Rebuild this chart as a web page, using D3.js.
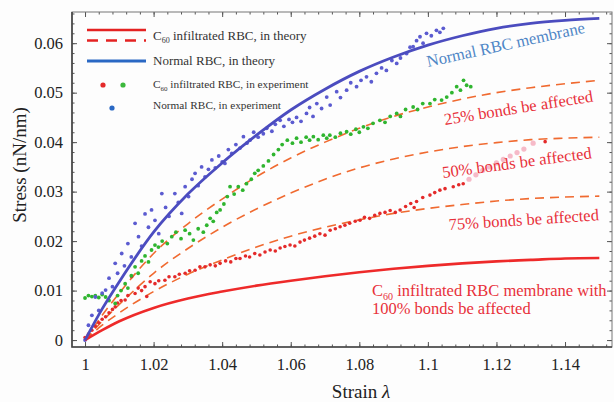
<!DOCTYPE html>
<html>
<head>
<meta charset="utf-8">
<script src="https://cdn.jsdelivr.net/npm/d3@7"></script>
<style>
  body { margin: 0; background: #fff; }
  svg { display: block; }
  text { font-family: "Liberation Serif", "Times New Roman", serif; }
</style>
</head>
<body>
<div id="chart"></div>
<script>
// tick values
var strainTicks = [1, 1.02, 1.04, 1.06, 1.08, 1.1, 1.12, 1.14];
var strainLabels = ["1", "1.02", "1.04", "1.06", "1.08", "1.1", "1.12", "1.14"];
var stressTicks = [0, 0.01, 0.02, 0.03, 0.04, 0.05, 0.06];
var stressLabels = ["0", "0.01", "0.02", "0.03", "0.04", "0.05", "0.06"];

// theory curves [strain, stress]
var normalTheory = [[1, 0], [1.005, 0.0063], [1.01, 0.0118], [1.02, 0.0218], [1.03, 0.0295], [1.04, 0.0358],
  [1.05, 0.0414], [1.06, 0.0465], [1.07, 0.0507], [1.08, 0.0543], [1.09, 0.0572], [1.1, 0.0596],
  [1.11, 0.0615], [1.12, 0.063], [1.13, 0.064], [1.14, 0.0646], [1.15, 0.065]];
var bonds25 = [[1, 0], [1.005, 0.005], [1.01, 0.0095], [1.02, 0.0175], [1.03, 0.0235], [1.04, 0.0285],
  [1.05, 0.033], [1.06, 0.0368], [1.07, 0.04], [1.08, 0.0428], [1.09, 0.0452], [1.1, 0.0471],
  [1.11, 0.0487], [1.12, 0.05], [1.13, 0.051], [1.14, 0.0518], [1.15, 0.0525]];
var bonds50 = [[1, 0], [1.005, 0.0038], [1.01, 0.0072], [1.02, 0.0135], [1.03, 0.0185], [1.04, 0.0228],
  [1.05, 0.0265], [1.06, 0.0297], [1.07, 0.0325], [1.08, 0.0348], [1.09, 0.0366], [1.1, 0.038],
  [1.11, 0.0391], [1.12, 0.0399], [1.13, 0.0405], [1.14, 0.0408], [1.15, 0.041]];
var bonds75 = [[1, 0], [1.005, 0.003], [1.01, 0.0055], [1.02, 0.0098], [1.03, 0.0133], [1.04, 0.0162],
  [1.05, 0.0188], [1.06, 0.021], [1.07, 0.0228], [1.08, 0.0243], [1.09, 0.0256], [1.1, 0.0266],
  [1.11, 0.0274], [1.12, 0.0281], [1.13, 0.0286], [1.14, 0.0289], [1.15, 0.0291]];
var bonds100 = [[1, 0], [1.005, 0.002], [1.01, 0.0038], [1.02, 0.0065], [1.03, 0.0084], [1.04, 0.0098],
  [1.05, 0.011], [1.06, 0.012], [1.07, 0.0129], [1.08, 0.0137], [1.09, 0.0144], [1.1, 0.015],
  [1.11, 0.0155], [1.12, 0.0159], [1.13, 0.0162], [1.14, 0.0165], [1.15, 0.0166]];

// experiment points [strain, stress]
var normalExp = [[1, 0], [1.001, 0.003], [1.002, 0.005], [1.003, 0.0087], [1.004, 0.006], [1.005, 0.0095],
  [1.006, 0.0101], [1.007, 0.0125], [1.008, 0.0108], [1.0088, 0.0155], [1.0095, 0.0135], [1.0107, 0.0175],
  [1.0115, 0.015], [1.0125, 0.0195], [1.0135, 0.0168], [1.0146, 0.0236], [1.0156, 0.0209], [1.0165, 0.019],
  [1.0175, 0.0255], [1.0185, 0.0228], [1.0194, 0.0263], [1.0204, 0.0242], [1.0215, 0.0215], [1.0224, 0.0296],
  [1.0235, 0.0268], [1.0245, 0.025], [1.0262, 0.0296], [1.0272, 0.0278], [1.0282, 0.0256], [1.0292, 0.031],
  [1.0302, 0.029], [1.0312, 0.0325], [1.0321, 0.0337], [1.033, 0.0312], [1.034, 0.035], [1.035, 0.033],
  [1.036, 0.0345], [1.037, 0.0364], [1.038, 0.0348], [1.039, 0.0372], [1.04, 0.036], [1.0408, 0.0357],
  [1.0418, 0.0385], [1.0428, 0.0377], [1.044, 0.0395], [1.0452, 0.0388], [1.0462, 0.0411], [1.0472, 0.0398],
  [1.0481, 0.0404], [1.0492, 0.042], [1.0505, 0.041], [1.052, 0.0417], [1.053, 0.0428], [1.0545, 0.0422],
  [1.0555, 0.0436], [1.0569, 0.0444], [1.058, 0.0432], [1.0595, 0.0446], [1.0605, 0.044], [1.0617, 0.045],
  [1.063, 0.0442], [1.0646, 0.0458], [1.0655, 0.047], [1.0665, 0.0452], [1.0676, 0.0478], [1.069, 0.0468],
  [1.0705, 0.0491], [1.0715, 0.0475], [1.0734, 0.0502], [1.0745, 0.049], [1.0763, 0.0505], [1.0775, 0.052],
  [1.0792, 0.0512], [1.0805, 0.0525], [1.0821, 0.0532], [1.0835, 0.0522], [1.085, 0.0539], [1.0865, 0.055],
  [1.0879, 0.0545], [1.0895, 0.0565], [1.0909, 0.0559], [1.092, 0.057], [1.0938, 0.0579], [1.0948, 0.0592],
  [1.0957, 0.0593], [1.0967, 0.0605], [1.0977, 0.0613], [1.0986, 0.06], [1.0996, 0.062], [1.101, 0.0615],
  [1.1025, 0.0626], [1.1035, 0.0622], [1.1045, 0.063]];
var c60Exp = [[1, 0.0085], [1.001, 0.009], [1.002, 0.0088], [1.003, 0.009], [1.004, 0.0086], [1.005, 0.0092],
  [1.006, 0.0087], [1.007, 0.008], [1.0088, 0.0074], [1.0095, 0.009], [1.0105, 0.01], [1.0117, 0.0114],
  [1.0125, 0.0105], [1.0135, 0.013], [1.0146, 0.0148], [1.0155, 0.0135], [1.0165, 0.016], [1.0175, 0.017],
  [1.0185, 0.0158], [1.0194, 0.0182], [1.0204, 0.0192], [1.0214, 0.0188], [1.0225, 0.02], [1.024, 0.0195],
  [1.0253, 0.0209], [1.0265, 0.0218], [1.028, 0.0205], [1.0292, 0.0222], [1.0305, 0.0215], [1.0316, 0.0202],
  [1.033, 0.0225], [1.0345, 0.0218], [1.0355, 0.0232], [1.0365, 0.0246], [1.0374, 0.024], [1.0384, 0.0258],
  [1.0394, 0.0263], [1.0405, 0.0275], [1.0415, 0.029], [1.0423, 0.031], [1.0435, 0.0295], [1.0447, 0.031],
  [1.046, 0.0303], [1.0471, 0.0316], [1.0485, 0.0325], [1.0495, 0.0337], [1.0505, 0.0343], [1.052, 0.0352],
  [1.0535, 0.0362], [1.055, 0.0375], [1.0564, 0.0385], [1.0575, 0.0395], [1.059, 0.0404], [1.0605, 0.0398],
  [1.0617, 0.0408], [1.063, 0.04], [1.0645, 0.041], [1.0655, 0.0404], [1.0666, 0.0411], [1.068, 0.0405],
  [1.0695, 0.0414], [1.0705, 0.0408], [1.0714, 0.0414], [1.073, 0.041], [1.0745, 0.0418], [1.0763, 0.0421],
  [1.0775, 0.0416], [1.079, 0.0426], [1.08, 0.042], [1.0812, 0.0431], [1.0825, 0.0428], [1.084, 0.0438],
  [1.086, 0.0444], [1.0875, 0.044], [1.089, 0.0452], [1.0909, 0.0458], [1.092, 0.0452], [1.0935, 0.0466],
  [1.0957, 0.0471], [1.097, 0.0466], [1.0985, 0.0478], [1.1006, 0.0478], [1.102, 0.0486], [1.104, 0.0485],
  [1.1055, 0.0491], [1.107, 0.05], [1.1084, 0.0512], [1.1095, 0.0505], [1.1104, 0.0525], [1.1113, 0.0515],
  [1.1125, 0.0512]];
var c60ExpRed = [[1, 0.0005], [1.001, 0.0012], [1.002, 0.002], [1.003, 0.0028], [1.004, 0.0035], [1.005, 0.0042],
  [1.006, 0.0047], [1.007, 0.0055], [1.008, 0.0062], [1.0088, 0.0067], [1.0095, 0.0075], [1.0105, 0.008],
  [1.0117, 0.0081], [1.0125, 0.009], [1.0136, 0.0128], [1.0146, 0.0094], [1.0155, 0.0105], [1.0165, 0.01],
  [1.0175, 0.0108], [1.018, 0.0088], [1.019, 0.0118], [1.0204, 0.0114], [1.0215, 0.012], [1.0233, 0.0121],
  [1.0245, 0.0128], [1.0262, 0.0128], [1.0275, 0.0133], [1.0292, 0.0135], [1.0305, 0.014], [1.0321, 0.0141],
  [1.0335, 0.0148], [1.035, 0.0148], [1.0365, 0.0152], [1.038, 0.015], [1.0394, 0.0155], [1.041, 0.016],
  [1.0425, 0.0158], [1.044, 0.0165], [1.0452, 0.0165], [1.0468, 0.017], [1.048, 0.0168], [1.0495, 0.0175],
  [1.051, 0.0172], [1.0525, 0.0178], [1.054, 0.0182], [1.0555, 0.018], [1.0569, 0.0186], [1.0583, 0.0189],
  [1.0598, 0.0192], [1.0612, 0.019], [1.0627, 0.0198], [1.064, 0.0202], [1.0655, 0.0206], [1.067, 0.021],
  [1.0685, 0.0215], [1.07, 0.0212], [1.0715, 0.0222], [1.073, 0.0225], [1.0744, 0.0229], [1.0758, 0.0232],
  [1.0772, 0.0236], [1.0788, 0.024], [1.0802, 0.0242], [1.0815, 0.0248], [1.083, 0.0246], [1.0845, 0.0252],
  [1.086, 0.0256], [1.0875, 0.0258], [1.089, 0.0262], [1.0905, 0.0258], [1.0919, 0.0263], [1.0935, 0.027],
  [1.095, 0.0276], [1.096, 0.0268], [1.0967, 0.028], [1.0985, 0.0288], [1.1006, 0.0293], [1.102, 0.0298],
  [1.1035, 0.0303], [1.105, 0.0306], [1.1074, 0.031], [1.109, 0.0314], [1.1103, 0.0316], [1.1342, 0.0401]];
// faded streak after the last red points
var c60Faded = [[1.112, 0.0325], [1.114, 0.0334], [1.116, 0.0343], [1.118, 0.035], [1.12, 0.0358],
  [1.122, 0.0365], [1.124, 0.0372], [1.126, 0.0379], [1.128, 0.0386], [1.1307, 0.0398]];

var svgWidth = 614, svgHeight = 402;
var frame = { left: 72, right: 612, top: 12, bottom: 347 };

var svg = d3.select("#chart").append("svg")
  .attr("width", svgWidth)
  .attr("height", svgHeight);

svg.append("rect").attr("width", svgWidth).attr("height", svgHeight).attr("fill", "#fdfdfd");

var x = d3.scaleLinear().domain([0.9962, 1.1537]).range([frame.left, frame.right]);
var y = d3.scaleLinear().domain([-0.0014, 0.0663]).range([frame.bottom, frame.top]);

// minor ticks (every 0.004 in strain, 0.002 in stress)
var minorX = d3.range(249, 289).map(d => d * 0.004).filter(d => d > 0.9962 && d < 1.1537);
var minorY = d3.range(0, 34).map(d => d * 0.002);

function frameAxis(axis, transform, labels) {
  var g = svg.append("g").attr("transform", transform).call(axis);
  g.select(".domain").remove();
  g.selectAll("line").attr("stroke", "#555");
  g.selectAll("text").attr("font-size", 16.5).attr("fill", "#222")
    .attr("font-family", "'Liberation Serif', serif");
  if (!labels) g.selectAll("text").remove();
  return g;
}

frameAxis(d3.axisBottom(x).tickValues(strainTicks).tickSize(-5).tickPadding(11)
  .tickFormat((d, i) => strainLabels[i]), `translate(0,${frame.bottom})`, true);
frameAxis(d3.axisBottom(x).tickValues(minorX).tickSize(-2.5), `translate(0,${frame.bottom})`, false);
frameAxis(d3.axisTop(x).tickValues(strainTicks).tickSize(-5), `translate(0,${frame.top})`, false);
frameAxis(d3.axisTop(x).tickValues(minorX).tickSize(-2.5), `translate(0,${frame.top})`, false);
frameAxis(d3.axisLeft(y).tickValues(stressTicks).tickSize(-5).tickPadding(9)
  .tickFormat((d, i) => stressLabels[i]), `translate(${frame.left},0)`, true);
frameAxis(d3.axisLeft(y).tickValues(minorY).tickSize(-2.5), `translate(${frame.left},0)`, false);
frameAxis(d3.axisRight(y).tickValues(stressTicks).tickSize(-5), `translate(${frame.right},0)`, false);
frameAxis(d3.axisRight(y).tickValues(minorY).tickSize(-2.5), `translate(${frame.right},0)`, false);

// frame
svg.append("rect")
  .attr("x", frame.left).attr("y", frame.top)
  .attr("width", frame.right - frame.left).attr("height", frame.bottom - frame.top)
  .attr("fill", "none").attr("stroke", "#777").attr("stroke-width", 1);
svg.append("path")
  .attr("d", `M${frame.left},${frame.top}V${frame.bottom}H${frame.right}`)
  .attr("fill", "none").attr("stroke", "#444").attr("stroke-width", 1.6);

var line = d3.line().x(d => x(d[0])).y(d => y(d[1])).curve(d3.curveMonotoneX);

var plot = svg.append("g");

function dots(data, color, r, opacity) {
  plot.append("g").selectAll("circle")
    .data(data)
    .enter()
    .append("circle")
    .attr("cx", d => x(d[0]))
    .attr("cy", d => y(d[1]))
    .attr("r", r)
    .attr("fill", color)
    .attr("opacity", opacity);
}

// dashed partial-bond curves
[bonds25, bonds50, bonds75].forEach(function(c) {
  plot.append("path").attr("d", line(c))
    .attr("fill", "none").attr("stroke", "#f06a30").attr("stroke-width", 1.6)
    .attr("stroke-dasharray", "9,6");
});

dots(c60Faded, "#f3a3b6", 2.6, 0.75);
dots(c60ExpRed, "#e42a2a", 1.8, 1);
dots(c60Exp, "#2fb52f", 1.9, 1);
dots(normalExp, "#5b5bd0", 1.9, 1);

plot.append("path").attr("d", line(bonds100))
  .attr("fill", "none").attr("stroke", "#ee2a2a").attr("stroke-width", 2.6);
plot.append("path").attr("d", line(normalTheory))
  .attr("fill", "none").attr("stroke", "#4b4cbf").attr("stroke-width", 2.8);

// curve labels
function label(text, tx, ty, angle, color, sub) {
  var t = svg.append("text")
    .attr("transform", `translate(${tx},${ty}) rotate(${angle})`)
    .attr("font-size", 16.5).attr("fill", color);
  if (sub) {
    t.append("tspan").text("C");
    t.append("tspan").text("60").attr("font-size", 10).attr("dy", 4);
    t.append("tspan").text(text).attr("dy", -4);
  } else {
    t.text(text);
  }
}
label("Normal RBC membrane", 428, 67, -12.3, "#4f86c6");
label("25% bonds be affected", 445, 125, -9, "#e8303a");
label("50% bonds be affected", 443, 178, -7.6, "#e8303a");
label("75% bonds be affected", 449, 230, -3.7, "#e8303a");
label(" infiltrated RBC membrane with", 372, 296, 0, "#e8303a", true);
label("100% bonds be affected", 372, 314, 0, "#e8303a");

// legend
var legend = svg.append("g");
legend.append("line").attr("x1", 87).attr("x2", 146).attr("y1", 30).attr("y2", 30)
  .attr("stroke", "#e42222").attr("stroke-width", 2.6);
legend.append("line").attr("x1", 87).attr("x2", 146).attr("y1", 40.5).attr("y2", 40.5)
  .attr("stroke", "#e42222").attr("stroke-width", 2.6).attr("stroke-dasharray", "11,8");
legend.append("line").attr("x1", 87).attr("x2", 146).attr("y1", 61).attr("y2", 61)
  .attr("stroke", "#2a68c4").attr("stroke-width", 2.8);
legend.append("circle").attr("cx", 103).attr("cy", 85).attr("r", 2.6).attr("fill", "#e42a2a");
legend.append("circle").attr("cx", 123).attr("cy", 85).attr("r", 2.6).attr("fill", "#3cb83c");
legend.append("circle").attr("cx", 112).attr("cy", 108).attr("r", 2.6).attr("fill", "#2a68c4");

function legendText(parts, ty, size) {
  var t = legend.append("text").attr("x", 153).attr("y", ty)
    .attr("font-size", size).attr("fill", "#333");
  parts.forEach(function(p) {
    if (p.sub) {
      t.append("tspan").text(p.sub).attr("font-size", size * 0.62).attr("dy", 3);
    } else {
      t.append("tspan").text(p.text).attr("dy", p.after ? -3 : 0);
    }
  });
}
legendText([{ text: "C" }, { sub: "60" }, { text: " infiltrated RBC,  in theory", after: true }], 39.5, 13);
legendText([{ text: "Normal RBC,  in theory" }], 65, 13);
legendText([{ text: "C" }, { sub: "60" }, { text: " infiltrated RBC, in experiment", after: true }], 87.5, 11.3);
legendText([{ text: "Normal RBC, in experiment" }], 108.5, 11.3);

// axis titles
svg.append("text")
  .attr("transform", `translate(26, 165) rotate(-90)`)
  .attr("text-anchor", "middle")
  .attr("font-size", 19).attr("fill", "#222")
  .text("Stress (nN/nm)");

var xTitle = svg.append("text")
  .attr("x", 361).attr("y", 398)
  .attr("text-anchor", "middle")
  .attr("font-size", 19).attr("fill", "#222");
xTitle.append("tspan").text("Strain ");
xTitle.append("tspan").text("λ").attr("font-style", "italic");
</script>
</body>
</html>
